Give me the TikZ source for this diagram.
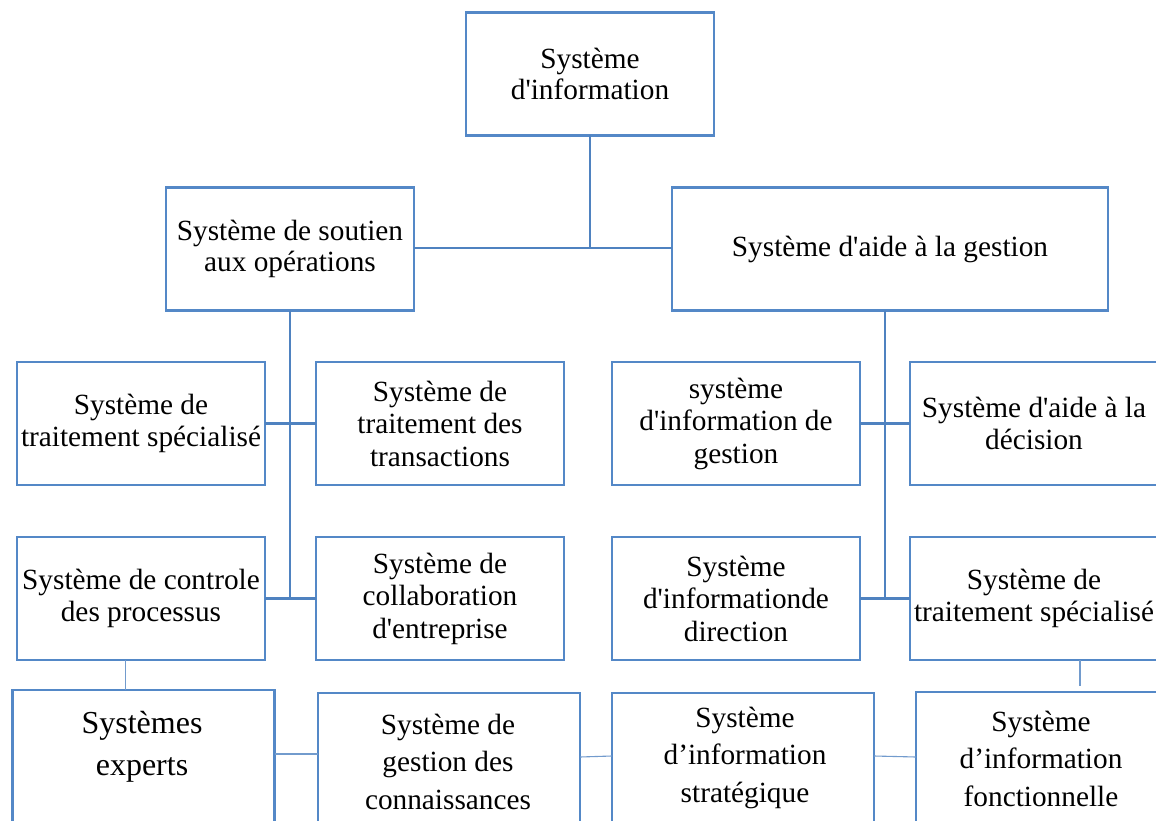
\documentclass[tikz,border=0pt]{standalone}
\usepackage{fontspec}
% plain family: straight apostrophes stay straight, curly ones stay curly
\newfontfamily\boxfont{Liberation Serif}
\begin{document}
\begin{tikzpicture}[x=1pt, y=-1pt,
  every node/.style={inner sep=0pt, outer sep=0pt},
  box/.style={draw=boxblue, line width=2.6pt, fill=white, rectangle,
    minimum width=248pt, minimum height=123pt, align=center,
    font=\boxfont\fontsize{29.3}{32.5}\selectfont},
  tallbox/.style={draw=boxblue, line width=2.6pt, rectangle,
    minimum width=262pt, minimum height=150pt, anchor=north},
  boxtext/.style={align=center, font=\boxfont\fontsize{29.3}{37.5}\selectfont},
  link/.style={draw=linkblue, line width=2.4pt},
  thinlink/.style={draw=linkblue!80, line width=1.1pt}]
\definecolor{boxblue}{RGB}{84,136,199}
\definecolor{linkblue}{RGB}{79,130,192}
\useasboundingbox (0,0) rectangle (1156,821);
\clip (0,0) rectangle (1156,821);
\fill[white] (0,0) rectangle (1156,821);

% trunk positions
\coordinate (ltrunk) at (290,598);
\coordinate (rtrunk) at (885,598);
\coordinate (toprow) at (0,248);

% upper levels
\node[box] (si) at (590,74) {Système\\[-1.5pt]d'information};
\node[box] (ops) at (290,249) {Système de soutien\\[-1.5pt]aux opérations};
\node[box, minimum width=436pt] (gest) at (890,249) {Système d'aide à la gestion};

\node[box] (tsl) at (141,423.5) {Système de\\traitement spécialisé};
\node[box] (ttr) at (440,423.5) {Système de\\traitement des\\transactions};
\node[box] (cpr) at (141,598.5) {Système de controle\\des processus};
\node[box] (col) at (440,598.5) {Système de\\collaboration\\d'entreprise};

\node[box] (sig) at (736,423.5) {système\\d'information de\\gestion};
\node[box] (sad) at (1034,423.5) {Système d'aide à la\\décision};
\node[box] (sid) at (736,598.5) {Système\\d'informationde\\direction};
\node[box] (tsr) at (1034,598.5) {Système de\\traitement spécialisé};

% bottom row
\node[tallbox] (exp) at (143.5,690) {};
\node[boxtext, font=\boxfont\fontsize{32}{42}\selectfont] (expt) at (142,747) {Systèmes\\experts};
\node[tallbox] (con) at (449,693) {};
\node[boxtext] (cont) at (448,761.5) {Système de\\gestion des\\connaissances};
\node[tallbox] (str) at (743,693) {};
\node[boxtext] (strt) at (745,757.5) {Système\\d’information\\stratégique};
\node[tallbox] (fon) at (1047,692) {};
\node[boxtext] (font) at (1041,758.5) {Système\\d’information\\fonctionnelle};

% upper connectors
\draw[link] (si.south) -- (si.south |- toprow);
\draw[link] (ops.east |- toprow) -- (gest.west |- toprow);

\draw[link] (ops.south) -- (ltrunk);
\draw[link] (tsl.east) -- (ttr.west);
\draw[link] (cpr.east) -- (col.west);

\draw[link] (gest.south -| rtrunk) -- (rtrunk);
\draw[link] (sig.east) -- (sad.west);
\draw[link] (sid.east) -- (tsr.west);

% thin connectors of the bottom row
\coordinate (lx) at (125.5,0);
\coordinate (rx) at (1080,0);
\coordinate (rend) at (1080,686);
\draw[thinlink] (cpr.south -| lx) -- (exp.north -| lx);
\draw[thinlink] (tsr.south -| rx) -- (rend);
\coordinate (y1) at (0,754);
\coordinate (y2) at (0,757);
\coordinate (y3) at (0,756);
\draw[thinlink] (exp.east |- y1) -- (con.west |- y1);
\draw[thinlink] (con.east |- y2) -- (str.west |- y3);
\draw[thinlink] (str.east |- y3) -- (fon.west |- y2);
\end{tikzpicture}
\end{document}
